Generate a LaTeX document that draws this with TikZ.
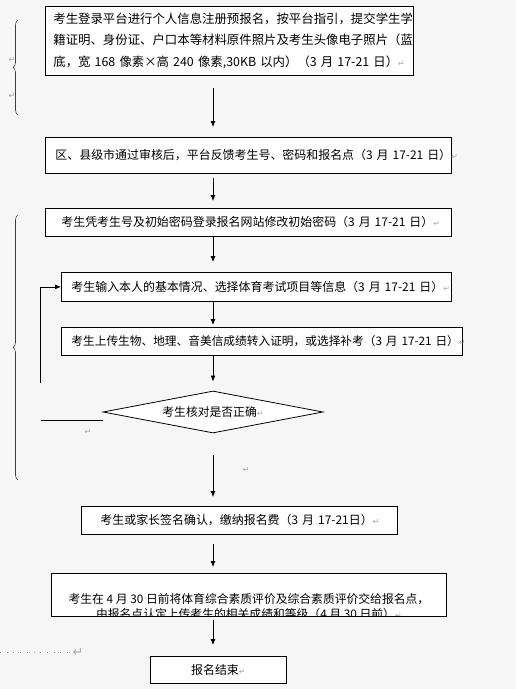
\documentclass[tikz,border=0pt]{standalone}
\usepackage{fontspec}
\setmainfont{Noto Sans CJK SC}
\newfontfamily\arrowfont{DejaVu Sans}
\usetikzlibrary{arrows.meta,shapes.geometric,decorations.pathreplacing}
\definecolor{pagebg}{RGB}{246,246,246}
\newcommand{\retmark}{{\arrowfont\color{black!35}\fontsize{8pt}{8pt}\selectfont ↵}}

\tikzset{
	stepbox/.style={draw, fill=white, line width=0.8pt, anchor=north west, inner sep=0pt, align=left, font=\fontsize{11.95pt}{14pt}\selectfont},
	flow/.style={-{Latex[length=6pt,width=5pt]}, line width=0.8pt},
	curly/.style={decorate, decoration={brace, amplitude=5pt}, line width=0.6pt, black!75},
	pmark/.style={inner sep=0pt}
}

\begin{document}
\begin{tikzpicture}[x=1pt,y=-1pt]
	\fill[pagebg] (0,0) rectangle (516,689);
	\useasboundingbox (0,0) rectangle (516,689);
	\coordinate (axis) at (213,0);

	\node[stepbox, minimum width=368pt, minimum height=69pt, text width=352pt, font=\fontsize{12.4pt}{21.5pt}\selectfont] (reg) at (45,6)
		{\mbox{考生登录平台进行个人信息注册预报名，按平台指引，提交学生学}\\
		 \mbox{籍证明、身份证、户口本等材料原件照片及考生头像电子照片（蓝}\\
		 \mbox{底，宽 168 像素×高 240 像素,30KB 以内）（3 月 17-21 日）\retmark}};
	\node[stepbox, minimum width=406pt, minimum height=36pt, text width=386pt] (fdbk) at (45,137)
		{\mbox{区、县级市通过审核后，平台反馈考生号、密码和报名点（3 月 17-21 日）\retmark}};
	\node[stepbox, minimum width=406pt, minimum height=28pt, text width=374pt] (pwd) at (45,208)
		{\mbox{考生凭考生号及初始密码登录报名网站修改初始密码（3 月 17-21 日）\retmark}};
	\node[stepbox, minimum width=390pt, minimum height=29pt, text width=370pt] (info) at (61,272)
		{\mbox{考生输入本人的基本情况、选择体育考试项目等信息（3 月 17-21 日）\retmark}};
	\node[stepbox, minimum width=401pt, minimum height=28pt, text width=381pt, font=\fontsize{11.7pt}{14pt}\selectfont] (upl) at (61,327)
		{\mbox{考生上传生物、地理、音美信成绩转入证明，或选择补考（3 月 17-21 日）\retmark}};
	\node[draw, fill=white, diamond, aspect=5.24, minimum width=220pt, minimum height=42pt, inner sep=0pt, line width=0.8pt, font=\fontsize{11.8pt}{14pt}\selectfont] (chk) at (213,412)
		{考生核对是否正确\retmark};
	\node[stepbox, minimum width=316pt, minimum height=28pt, text width=278pt] (fee) at (81,506)
		{\mbox{考生或家长签名确认，缴纳报名费（3 月 17-21日）\retmark}};
	\node[stepbox, minimum width=395pt, minimum height=43pt, text width=395pt] (eval) at (51,573) {};
	\begin{scope}
		\clip ([shift={(1pt,-1pt)}]eval.north west) rectangle ([shift={(-1pt,1pt)}]eval.south east);
		\node[anchor=north, inner sep=0pt, align=center, font=\fontsize{11.8pt}{15pt}\selectfont] (evaltxt) at ([yshift=-20pt]eval.north)
			{考生在 4 月 30 日前将体育综合素质评价及综合素质评价交给报名点，\\
			 由报名点认定上传考生的相关成绩和等级（4 月 30 日前）\retmark};
	\end{scope}
	\node[stepbox, minimum width=136pt, minimum height=27pt, text width=136pt, align=center] (done) at (150,656) {报名结束\retmark};

	\foreach \a/\b/\ga/\gb in {reg/fdbk/12/10, fdbk/pwd/4/7, pwd/info/0/10, info/upl/0/2, upl/chk/0/9, chk/fee/22/9, fee/eval/9/6, eval/done/3/11}
	{
		\draw[flow] ([yshift=-\ga pt]\a.south -| axis) -- ([yshift=\gb pt]\b.north -| axis);
	}

	% broken return line
	\coordinate (loopbot) at (40,383);
	\draw[line width=0.8pt] ([yshift=-8pt]chk.west) -- ++(-62,0);
	\draw[flow] (loopbot) |- (info.west);

	\draw[curly] (18,115) -- (18,20);
	\draw[curly] (18,480) -- (18,215);

	\node[pmark] (pa) at (12,60) {\retmark};
	\node[pmark] (pb) at (12,96) {\retmark};
	\node[pmark] (pc) at (88,432) {\retmark};
	\node[pmark] (pd) at (246,470) {\retmark};
	\node[pmark, scale=1.6] (pe) at (78,652) {\retmark};
	\draw[black!45, line width=0.8pt, dash pattern=on 0.8pt off 5.9pt] (0,652) -- (pe.west);
\end{tikzpicture}
\end{document}
